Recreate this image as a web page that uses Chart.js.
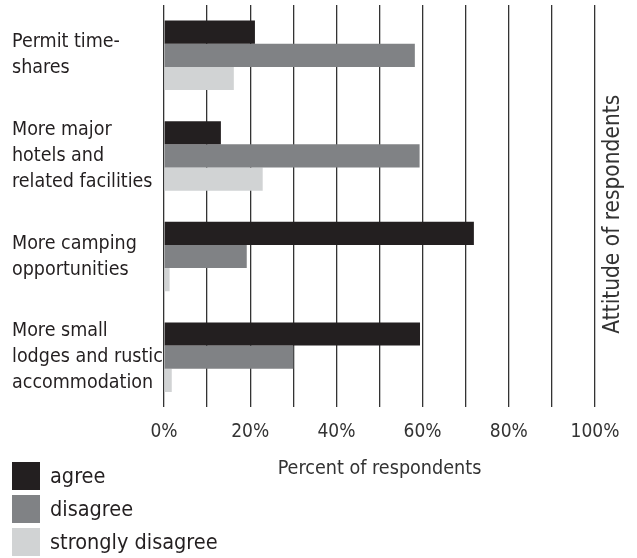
<!DOCTYPE html>
<html>
<head>
    <title>Attitude of respondents</title>
    <meta charset="utf-8" />
    <script src="https://cdn.jsdelivr.net/npm/chart.js"></script>
    <style>
        body { margin: 0; background: #fff; }
        .chart-container {
            position: relative;
            width: 637px;
            height: 558px;
        }
        #legend {
            position: absolute;
            left: 12px;
            top: 459px;
            font-family: "DejaVu Sans Condensed", "Liberation Sans", sans-serif;
            font-size: 21.5px;
            color: #231f20;
        }
        #legend div {
            display: flex;
            align-items: center;
            height: 33px;
        }
        #legend span.box {
            display: inline-block;
            width: 28px;
            height: 28px;
            margin-right: 10px;
        }
    </style>
</head>
<body>
    <div class="chart-container">
        <canvas id="attitudeChart"></canvas>
        <div id="legend"></div>
    </div>

    <script>
        // 데이터
        const categories = [
            ['Permit time-', 'shares'],
            ['More major', 'hotels and', 'related facilities'],
            ['More camping', 'opportunities'],
            ['More small', 'lodges and rustic', 'accommodation']
        ];
        const seriesNames = ['agree', 'disagree', 'strongly disagree'];
        const agree = [21.1, 13.2, 71.9, 59.4];
        const disagree = [58.2, 59.3, 19.2, 30.0];
        const stronglyDisagree = [16.2, 22.9, 1.3, 1.8];
        const tickValues = [0, 20, 40, 60, 80, 100];
        const colors = ['#231f20', '#808285', '#d1d3d4'];

        const narrow = '"DejaVu Sans Condensed", "Liberation Sans", sans-serif';
        const textColor = '#231f20';

        // 오른쪽 세로 제목
        const sideTitle = {
            id: 'sideTitle',
            afterDraw(chart) {
                const c = chart.ctx;
                const a = chart.chartArea;
                c.save();
                c.translate(a.right + 18, (a.top + a.bottom) / 2 + 8);
                c.rotate(-Math.PI / 2);
                c.font = '22.5px ' + narrow;
                c.fillStyle = '#333';
                c.textAlign = 'center';
                c.textBaseline = 'middle';
                c.fillText('Attitude of respondents', 0, 0);
                c.restore();
            }
        };

        // 범례 (세로로 쌓기)
        const htmlLegend = {
            id: 'htmlLegend',
            afterUpdate(chart) {
                const box = document.getElementById('legend');
                box.innerHTML = '';
                const items = chart.options.plugins.legend.labels.generateLabels(chart);
                items.forEach(item => {
                    const row = document.createElement('div');
                    const sq = document.createElement('span');
                    sq.className = 'box';
                    sq.style.background = item.fillStyle;
                    row.appendChild(sq);
                    row.appendChild(document.createTextNode(item.text));
                    box.appendChild(row);
                });
            }
        };

        const ctx = document.getElementById('attitudeChart').getContext('2d');
        const attitudeChart = new Chart(ctx, {
            type: 'bar',
            data: {
                labels: categories,
                datasets: [{
                    label: seriesNames[0],
                    data: agree,
                    backgroundColor: colors[0]
                }, {
                    label: seriesNames[1],
                    data: disagree,
                    backgroundColor: colors[1]
                }, {
                    label: seriesNames[2],
                    data: stronglyDisagree,
                    backgroundColor: colors[2]
                }]
            },
            options: {
                indexAxis: 'y',
                responsive: true,
                maintainAspectRatio: false,
                animation: false,
                categoryPercentage: 0.69,
                barPercentage: 1,
                layout: {
                    padding: { left: 12, right: 42, top: 5, bottom: 73 }
                },
                plugins: {
                    legend: { display: false },
                    tooltip: { enabled: false }
                },
                scales: {
                    x: {
                        min: 0,
                        max: 100,
                        afterFit(scale) { scale.paddingLeft = 0; scale.paddingRight = 0; },
                        ticks: {
                            stepSize: 10,
                            padding: 13.6,
                            color: '#333',
                            font: { family: narrow, size: 19 },
                            maxRotation: 0,
                            autoSkip: false,
                            callback: v => tickValues.includes(v) ? v + '%' : ''
                        },
                        grid: {
                            color: '#333',
                            lineWidth: 1.3,
                            drawTicks: false
                        },
                        border: { display: false },
                        title: {
                            display: true,
                            text: 'Percent of respondents',
                            color: '#333',
                            font: { family: narrow, size: 19.6 },
                            padding: { top: 0, bottom: 4 }
                        }
                    },
                    y: {
                        afterFit(scale) {
                            scale.width = 152;
                            scale.paddingTop = 0;
                            scale.paddingBottom = 0;
                        },
                        ticks: {
                            crossAlign: 'far',
                            color: textColor,
                            font: { family: narrow, size: 19.5, lineHeight: '26px' }
                        },
                        grid: { display: false },
                        border: { display: false }
                    }
                }
            },
            plugins: [sideTitle, htmlLegend]
        });
    </script>
</body>
</html>
